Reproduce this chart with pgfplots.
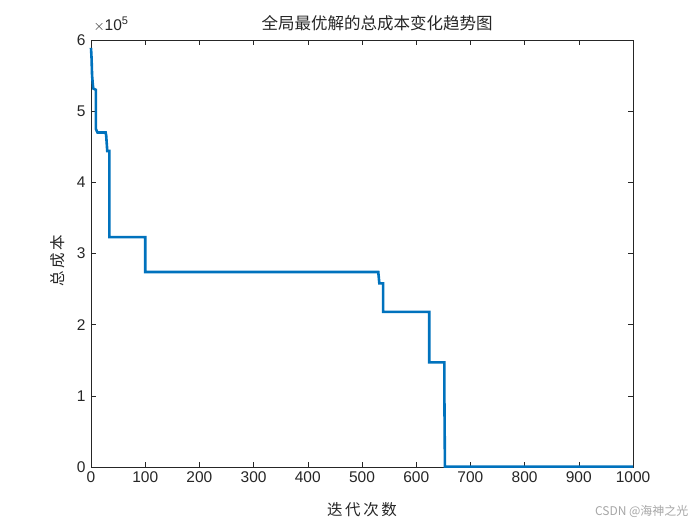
\documentclass[border=0pt]{standalone}
\usepackage{pgfplots}
\pgfplotsset{compat=1.18}
\usepackage{fontspec}
\setmainfont{Liberation Sans}
\newfontfamily\cjk{Noto Sans CJK SC}
\definecolor{mlblue}{rgb}{0,0.447,0.741}
\definecolor{axgray}{rgb}{0.15,0.15,0.15}
\begin{document}
\begin{tikzpicture}[x=1pt,y=1pt]
\path[use as bounding box] (0,0) rectangle (700,525);
\begin{axis}[
  at={(91pt,58pt)}, anchor=south west,
  scale only axis, width=542pt, height=427pt,
  xmin=0, xmax=1000, ymin=0, ymax=600000,
  xtick={0,100,...,1000},
  ytick={0,100000,200000,300000,400000,500000,600000},
  yticklabels={0,1,2,3,4,5,6},
  scaled y ticks=false,
  axis line style={axgray, line width=0.6pt},
  tick style={axgray, line width=0.6pt},
  major tick length=5pt,
  tick align=inside,
  xtick pos=both, ytick pos=both,
  /pgf/number format/assume math mode=true,
  /pgf/number format/1000 sep={},
  ticklabel style={font=\fontsize{15.5}{17}\selectfont, text=axgray},
  xticklabel style={yshift=-1pt},
  yticklabel style={xshift=-2pt},
  clip=false,
]
\addplot[mlblue, line width=2.6pt, line join=miter] coordinates {
(0,589000) (1,575000) (2,550000) (4,532000) (9,530000) (9,475000)
(12,470000) (27,470000) (28,466000) (30,444000) (34,444000)
(34,323000) (100,323000) (100,274000) (530,274000) (532,258000)
(539,258000) (539,218000) (624,218000) (624,147000) (652,147000)
(652,100000) (653,500) (1000,500)
};
\end{axis}
\node[anchor=base west, text=axgray, font=\fontsize{15.5}{17}\selectfont] at (90,494) {$\times$10\raisebox{0.45em}{\fontsize{11}{12}\selectfont 5}};
\node[font=\cjk\fontsize{16.5}{18}\selectfont, text=axgray] at (377,502) {全局最优解的总成本变化趋势图};
\node[font=\cjk\fontsize{15.5}{17}\selectfont, text=axgray] at (362,15) {迭\,代\,次\,数};
\node[font=\cjk\fontsize{15.5}{17}\selectfont, text=axgray, rotate=90] at (58,264) {总\,成\,本};
\node[anchor=east, font=\cjk\fontsize{12}{13}\selectfont, text=gray!70] at (692,14) {CSDN @海神之光};
\end{tikzpicture}
\end{document}
